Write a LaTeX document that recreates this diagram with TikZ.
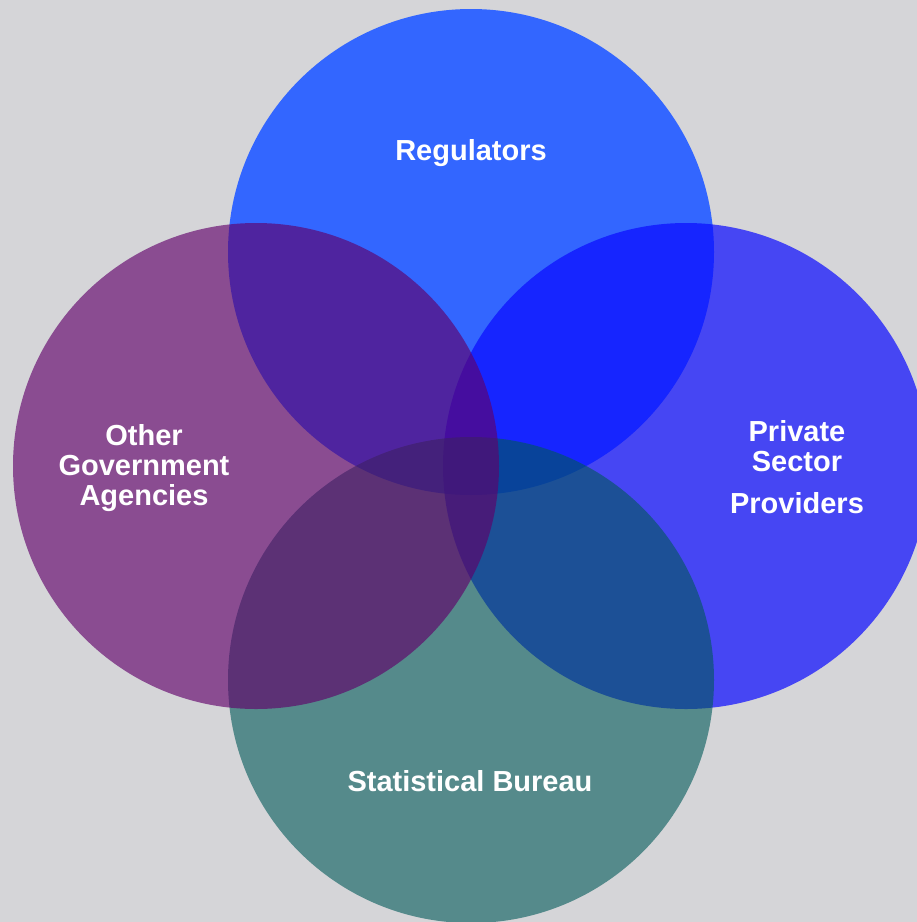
\documentclass[tikz,border=0pt]{standalone}
\usepackage{fontspec}
\setmainfont{Liberation Sans}
\begin{document}
\begin{tikzpicture}[x=1pt,y=-1pt,
  ring/.style={circle, minimum size=486pt, inner sep=0pt, draw=none},
  lbl/.style={text=white, font=\bfseries\fontsize{29}{30}\selectfont, align=center, inner sep=0pt}]
  \definecolor{bgGrey}{RGB}{213,213,216}
  \definecolor{regBlue}{RGB}{51,102,255}
  \definecolor{govPurple}{RGB}{96,0,106}
  \definecolor{privBlue}{RGB}{10,10,255}
  \definecolor{statTeal}{RGB}{0,88,88}
  \useasboundingbox (0,0) rectangle (917,922);
  \clip (0,0) rectangle (917,922);
  \fill[bgGrey] (0,0) rectangle (917,922);
  % the four overlapping circles, purple laid last
  \node[ring, fill=regBlue] (reg) at (471,252) {};
  \node[ring, fill=privBlue, fill opacity=0.7] (priv) at (686,466) {};
  \node[ring, fill=statTeal, fill opacity=0.6] (stat) at (471,680) {};
  \node[ring, fill=govPurple, fill opacity=0.64] (gov) at (256,466) {};
  % labels
  \node[lbl] (regT) at (471,153) {Regulators};
  \node[lbl] (govT) at (144,468) {Other\\Government\\Agencies};
  \node[lbl] (privT) at (797,467) {Private\\Sector\\[12pt]Providers};
  \node[lbl] (statT) at (470,781) {Statistical Bureau};
\end{tikzpicture}
\end{document}
